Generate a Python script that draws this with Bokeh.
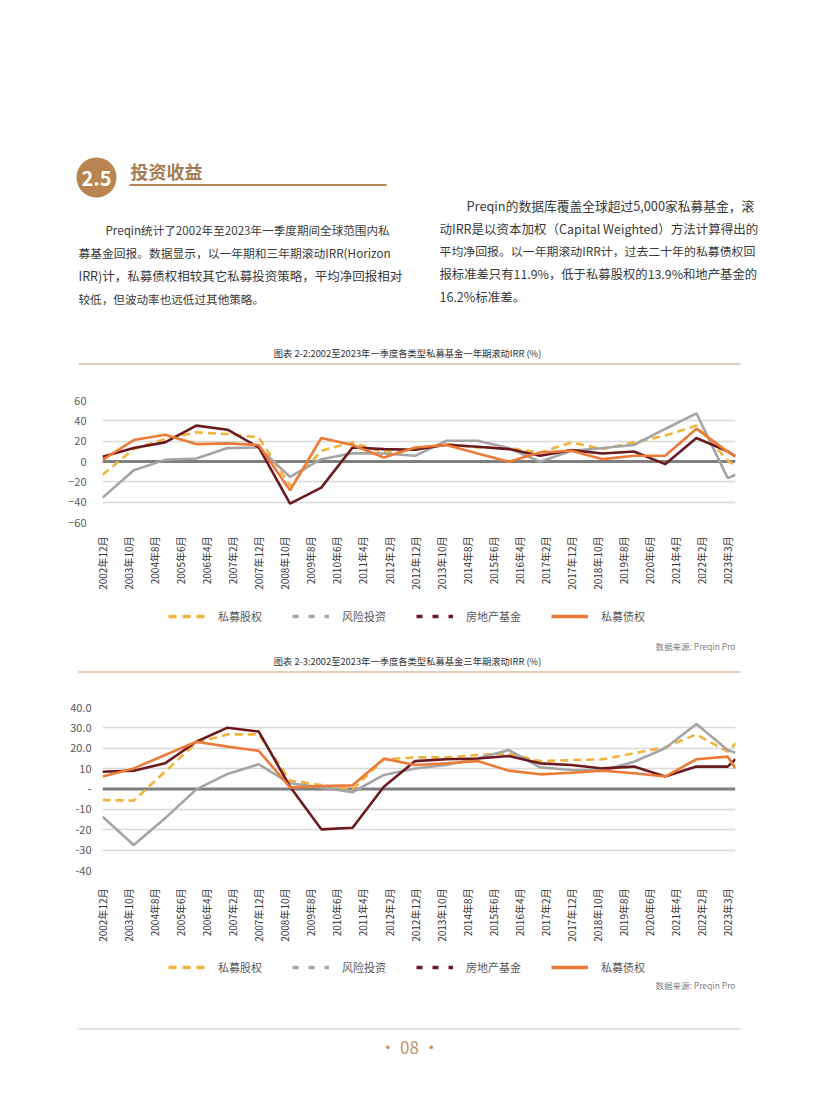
import math
from bokeh.plotting import figure
from bokeh.layouts import column
from bokeh.models import Range1d, FixedTicker, Span, Legend, LegendItem
from bokeh.embed import file_html
from bokeh.resources import INLINE
from bokeh.core.properties import value

FONT = "Noto Sans CJK SC"

# ---------------- data ----------------
periods = ["2002-12", "2003-12", "2004-12", "2005-12", "2006-12", "2007-12",
           "2008-12", "2009-12", "2010-12", "2011-12", "2012-12", "2013-12",
           "2014-12", "2015-12", "2016-12", "2017-12", "2018-12", "2019-12",
           "2020-12", "2021-12", "2022-12", "2023-03"]

tick_labels = ["2002年12月", "2003年10月", "2004年8月", "2005年6月", "2006年4月",
               "2007年2月", "2007年12月", "2008年10月", "2009年8月", "2010年6月",
               "2011年4月", "2012年2月", "2012年12月", "2013年10月", "2014年8月",
               "2015年6月", "2016年4月", "2017年2月", "2017年12月", "2018年10月",
               "2019年8月", "2020年6月", "2021年4月", "2022年2月", "2023年3月"]
tick_months = list(range(0, 241, 10))

series_names = ["私募股权", "风险投资", "房地产基金", "私募债权"]

# one-year horizon IRR (%)
irr1_pe = [-13.2, 12.2, 22.1, 28.7, 27.0, 23.7, -24.0, 10.6, 18.8, 9.0, 12.2,
           17.1, 13.8, 13.2, 8.9, 18.8, 12.2, 18.8, 25.5, 35.3, 1.0, -4.2]
irr1_vc = [-35.6, -8.6, 1.6, 3.0, 13.2, 13.8, -15.2, 2.3, 8.2, 7.9, 5.6,
           20.4, 20.4, 13.2, -0.3, 10.6, 13.2, 16.2, 32.0, 47.4, -16.4, -13.1]
irr1_re = [4.6, 13.2, 18.8, 35.3, 31.3, 13.8, -41.5, -25.7, 13.8, 12.2, 11.5,
           16.5, 14.5, 12.2, 5.6, 11.2, 7.9, 9.9, -2.6, 23.1, 10.0, 5.0]
irr1_pd = [1.6, 21.1, 26.4, 17.1, 17.8, 16.2, -28.4, 23.1, 16.2, 4.0, 13.8,
           16.2, 7.9, -0.3, 8.9, 10.6, 2.3, 5.6, 5.6, 32.3, 9.5, 5.6]

# three-year horizon IRR (%)
irr3_pe = [-5.4, -5.7, 8.5, 22.7, 26.8, 26.8, 4.1, 2.0, -0.2, 14.6, 15.5,
           15.5, 16.7, 17.5, 13.7, 14.2, 14.6, 17.5, 20.5, 26.8, 18.3, 22.4]
irr3_vc = [-13.6, -27.5, -14.4, -0.2, 7.4, 12.1, 2.8, 0.8, -1.6, 6.9, 10.1,
           11.8, 15.0, 19.1, 10.6, 9.3, 9.0, 13.4, 20.0, 31.9, 19.1, 17.8]
irr3_re = [8.5, 9.0, 12.6, 23.2, 30.1, 28.2, 1.1, -19.8, -19.0, 1.1, 13.7,
           14.6, 15.0, 16.2, 12.6, 11.8, 10.1, 11.0, 6.1, 11.0, 11.0, 14.6]
irr3_pd = [6.1, 10.1, 16.7, 23.2, 20.8, 18.7, 0.8, 1.5, 1.8, 14.9, 11.8,
           12.6, 13.7, 9.0, 7.2, 8.0, 9.0, 7.7, 6.1, 14.6, 15.9, 10.1]

y1_ticks = [-60, -40, -20, 0, 20, 40, 60]
y3_ticks = [-40, -30, -20, -10, 0, 10, 20, 30, 40]
y3_labels = ["-40", "-30", "-20", "-10", "-", "10", "20.0", "30.0", "40.0"]


def months_since_start(p):
    y, m = map(int, p.split("-"))
    return (y - 2002) * 12 + (m - 12)


x_months = [months_since_start(p) for p in periods]

COLORS = ["#F2B33D", "#A5A5A5", "#6B1A1F", "#EC7B3A"]
LINE_DASH = ["8 5", "solid", "solid", "solid"]
LEGEND_DASH = ["8 6", "6 10", "6 10", "solid"]

W = 816


# ---------------- helpers ----------------
def canvas(top, bottom):
    p = figure(width=W, height=bottom - top, x_range=Range1d(0, W),
               y_range=Range1d(bottom, top), title=None,
               min_border=0, min_border_left=0, min_border_right=0,
               min_border_top=0, min_border_bottom=0, frame_align=False,
               toolbar_location=None, output_backend="svg",
               x_axis_location=None, y_axis_location=None)
    p.grid.visible = False
    p.outline_line_color = None
    return p


def txt(p, x, y, s, size, color="#333333", align="left", style="normal"):
    p.text(x=[x], y=[y], text=[s], text_font=value(FONT), text_font_size=size,
           text_color=color, text_align=align, text_baseline="middle",
           text_font_style=style)


def legend_in(p, series, bottom_left):
    """Legend keys: lines carrying the series data, which lie outside this
    strip's visible range, so only their legend samples show."""
    items = []
    for vals, name, c, ldash in zip(series, series_names, COLORS, LEGEND_DASH):
        r = p.line(x=x_months, y=vals, line_color=c, line_width=3.5,
                   line_dash=ldash)
        items.append(LegendItem(label=name, renderers=[r]))
    leg = Legend(items=items, orientation="horizontal", location=bottom_left,
                 border_line_color=None, background_fill_alpha=0,
                 glyph_width=37, glyph_height=14, label_height=14,
                 label_standoff=13, spacing=30, padding=0, margin=0,
                 label_text_font=FONT, label_text_font_size="11px",
                 label_text_color="#595959", label_text_baseline="middle")
    p.add_layout(leg)


def chart(series, ymin, ymax, yticks, height, top_b, bottom_b, ylabels=None,
          ystandoff=10, xstandoff=10):
    p = figure(width=W, height=height, title=None, min_border_left=102,
               min_border_right=81, min_border_top=top_b,
               min_border_bottom=bottom_b, frame_align=False,
               x_range=Range1d(0, 243),
               y_range=Range1d(ymin, ymax), toolbar_location=None,
               output_backend="svg")
    p.outline_line_color = None
    p.xgrid.visible = False
    p.ygrid.grid_line_color = "#D9D9D9"
    p.ygrid.grid_line_width = 1.5

    p.xaxis.ticker = FixedTicker(ticks=tick_months)
    p.xaxis.major_label_overrides = {m: l for m, l in zip(tick_months, tick_labels)}
    p.xaxis.major_label_orientation = math.pi / 2
    p.yaxis.ticker = FixedTicker(ticks=yticks)
    if ylabels:
        p.yaxis.major_label_overrides = {t: l for t, l in zip(yticks, ylabels)}
    for ax in (p.xaxis, p.yaxis):
        ax.axis_line_color = None
        ax.major_tick_line_color = None
        ax.minor_tick_line_color = None
        ax.major_label_text_font = FONT
    p.xaxis.major_label_text_color = "#333333"
    p.yaxis.major_label_text_color = "#595959"
    p.xaxis.major_label_text_font_size = "10px"
    p.yaxis.major_label_text_font_size = "11px"
    p.xaxis.major_label_standoff = xstandoff
    p.yaxis.major_label_standoff = ystandoff

    p.add_layout(Span(location=0, dimension="width", line_color="#7F7F7F",
                      line_width=3, level="underlay"))

    for vals, c, dash in zip(series, COLORS, LINE_DASH):
        p.line(x=x_months, y=vals, line_color=c, line_width=2.6, line_dash=dash)
    return p


# ---------------- header ----------------
head = canvas(0, 380)
head.circle(x=[96], y=[177], radius=20, fill_color="#B8844F", line_color=None)
txt(head, 96, 178, "2.5", "20px", color="white", align="center", style="bold")
txt(head, 130, 170, "投资收益", "18px", color="#A87A52", style="bold")
head.segment(x0=[129], y0=[184.5], x1=[386], y1=[184.5], line_color="#B8844F",
             line_width=2)

left_lines = ["Preqin统计了2002年至2023年一季度期间全球范围内私",
              "募基金回报。数据显示，以一年期和三年期滚动IRR(Horizon",
              "IRR)计，私募债权相较其它私募投资策略，平均净回报相对",
              "较低，但波动率也远低过其他策略。"]
left_x = [105, 78, 78, 78]
left_y = [229, 252, 275, 298]
left_size = ["11.6px", "11.75px", "12.5px", "11.6px"]
for s, x, y, fs in zip(left_lines, left_x, left_y, left_size):
    txt(head, x, y, s, fs, color="#3A3A3A")

right_lines = ["Preqin的数据库覆盖全球超过5,000家私募基金，滚",
               "动IRR是以资本加权（Capital Weighted）方法计算得出的",
               "平均净回报。以一年期滚动IRR计，过去二十年的私募债权回",
               "报标准差只有11.9%，低于私募股权的13.9%和地产基金的",
               "16.2%标准差。"]
right_x = [466, 439, 439, 439, 439]
right_y = [205, 228, 250, 273, 296]
right_size = ["12.75px", "12.5px", "11.9px", "12.35px", "12.5px"]
for s, x, y, fs in zip(right_lines, right_x, right_y, right_size):
    txt(head, x, y, s, fs, color="#3A3A3A")

txt(head, 407, 352, "图表 2-2:2002至2023年一季度各类型私募基金一年期滚动IRR (%)",
    "9.3px", color="#333333", align="center")
head.segment(x0=[78], y0=[363.5], x1=[740], y1=[363.5], line_color="#C99B70",
             line_width=1)

# ---------------- chart 1 ----------------
c1 = chart([irr1_pe, irr1_vc, irr1_re, irr1_pd], -60, 60, y1_ticks,
           height=220, top_b=20, bottom_b=78, ystandoff=10, xstandoff=8)

# ---------------- legend 1 / source / chart 2 title ----------------
strip = canvas(600, 680)
legend_in(strip, [irr1_pe, irr1_vc, irr1_re, irr1_pd], (168, 56))
txt(strip, 735, 645, "数据来源: Preqin Pro", "8.5px", color="#7F7F7F", align="right")
txt(strip, 407, 660, "图表 2-3:2002至2023年一季度各类型私募基金三年期滚动IRR (%)",
    "9.3px", color="#333333", align="center")
strip.segment(x0=[78], y0=[671.5], x1=[740], y1=[671.5], line_color="#C99B70",
              line_width=1)

# ---------------- chart 2 ----------------
c2 = chart([irr3_pe, irr3_vc, irr3_re, irr3_pd], -40, 40, y3_ticks,
           height=270, top_b=27, bottom_b=80, ylabels=y3_labels,
           ystandoff=5, xstandoff=12)

# ---------------- legend 2 / source / footer ----------------
foot = canvas(950, 1099)
legend_in(foot, [irr3_pe, irr3_vc, irr3_re, irr3_pd], (168, 124))
txt(foot, 735, 984, "数据来源: Preqin Pro", "8.5px", color="#7F7F7F", align="right")
foot.segment(x0=[78], y0=[1028.5], x1=[740], y1=[1028.5], line_color="#C8C8C8",
             line_width=1)
txt(foot, 409, 1046, "• 08 •", "17px", color="#C0916A", align="center")

page = column(head, c1, strip, c2, foot, spacing=0)
open("out.html", "w").write(file_html(page, INLINE))
